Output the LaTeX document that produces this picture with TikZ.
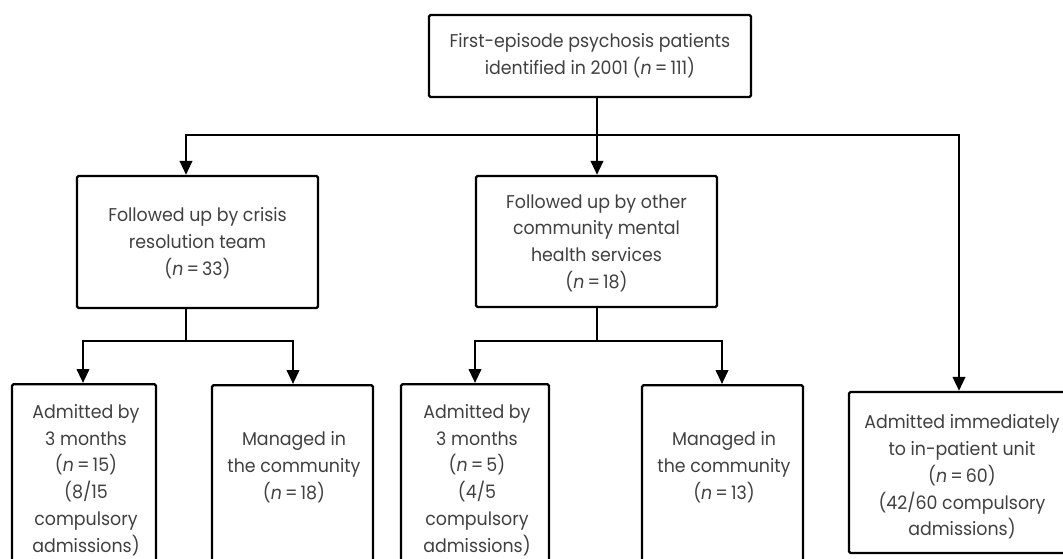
\documentclass[tikz,border=0pt]{standalone}
\usepackage{fontspec}
\setmainfont{Poppins}[FakeStretch=0.94]
\usetikzlibrary{arrows.meta}
\begin{document}
\begin{tikzpicture}[x=1pt,y=1pt,
  box/.style={draw, line width=2.4pt, rounded corners=1.5pt, inner sep=0pt},
  txt/.style={align=center, text=black!75, font=\fontsize{18.5}{26.7}\selectfont, inner sep=0pt},
  arr/.style={line width=2.4pt, -{Triangle[length=14pt,width=12.5pt]}},
  ln/.style={line width=2.4pt}]
\useasboundingbox (0,0) rectangle (1063,-558);
\clip (0,0) rectangle (1063,-558);

% boxes
\node[box, minimum width=322, minimum height=82] (top) at (590,-56) {};
\node[box, minimum width=241, minimum height=132] (crisis) at (197.5,-242) {};
\node[box, minimum width=241, minimum height=131] (other) at (596.5,-241.5) {};
\node[box, minimum width=144, minimum height=220, anchor=north] (b1) at (84,-383) {};
\node[box, minimum width=161, minimum height=220, anchor=north] (b2) at (292.5,-384) {};
\node[box, minimum width=148, minimum height=220, anchor=north] (b3) at (475,-383) {};
\node[box, minimum width=161, minimum height=220, anchor=north] (b4) at (722.5,-384) {};
\node[box, minimum width=226, minimum height=161] (right) at (962,-472.5) {};

% texts
\node[txt] (ttop) at (590,-56) {First-episode psychosis patients\\identified in 2001 (\textit{n}\,=\,111)};
\node[txt] (tcrisis) at (197.5,-243) {Followed up by crisis\\resolution team\\(\textit{n}\,=\,33)};
\node[txt] (tother) at (596.5,-243) {Followed up by other\\community mental\\health services\\(\textit{n}\,=\,18)};
\node[txt] (tb1) at (86,-480) {Admitted by\\3 months\\(\textit{n}\,=\,15)\\(8/15\\compulsory\\admissions)};
\node[txt] (tb2) at (294,-467) {Managed in\\the community\\(\textit{n}\,=\,18)};
\node[txt] (tb3) at (477,-480) {Admitted by\\3 months\\(\textit{n}\,=\,5)\\(4/5\\compulsory\\admissions)};
\node[txt] (tb4) at (724,-467) {Managed in\\the community\\(\textit{n}\,=\,13)};
\node[txt] (tright) at (962,-477) {Admitted immediately\\to in-patient unit\\(\textit{n}\,=\,60)\\(42/60 compulsory\\admissions)};

% junctions
\coordinate (j0) at (597,-135);
\coordinate (jl) at (186,-135);
\coordinate (jr) at (959,-135);
\coordinate (k1) at (186,-341);
\coordinate (k1l) at (83,-341);
\coordinate (k1r) at (293,-341);
\coordinate (k2) at (597,-341);
\coordinate (k2l) at (475,-341);
\coordinate (k2r) at (722,-341);

% connectors
\draw[ln] (top.south -| j0) -- (j0);
\draw[arr] (j0) -| (jl |- crisis.north);
\draw[arr] (j0) -| (jr |- right.north);
\draw[arr] (j0) -- (j0 |- other.north);

\draw[ln] (crisis.south -| k1) -- (k1);
\draw[arr] (k1) -| (k1l |- b1.north);
\draw[arr] (k1) -| (k1r |- b2.north);

\draw[ln] (other.south -| k2) -- (k2);
\draw[arr] (k2) -| (k2l |- b3.north);
\draw[arr] (k2) -| (k2r |- b4.north);
\end{tikzpicture}
\end{document}
